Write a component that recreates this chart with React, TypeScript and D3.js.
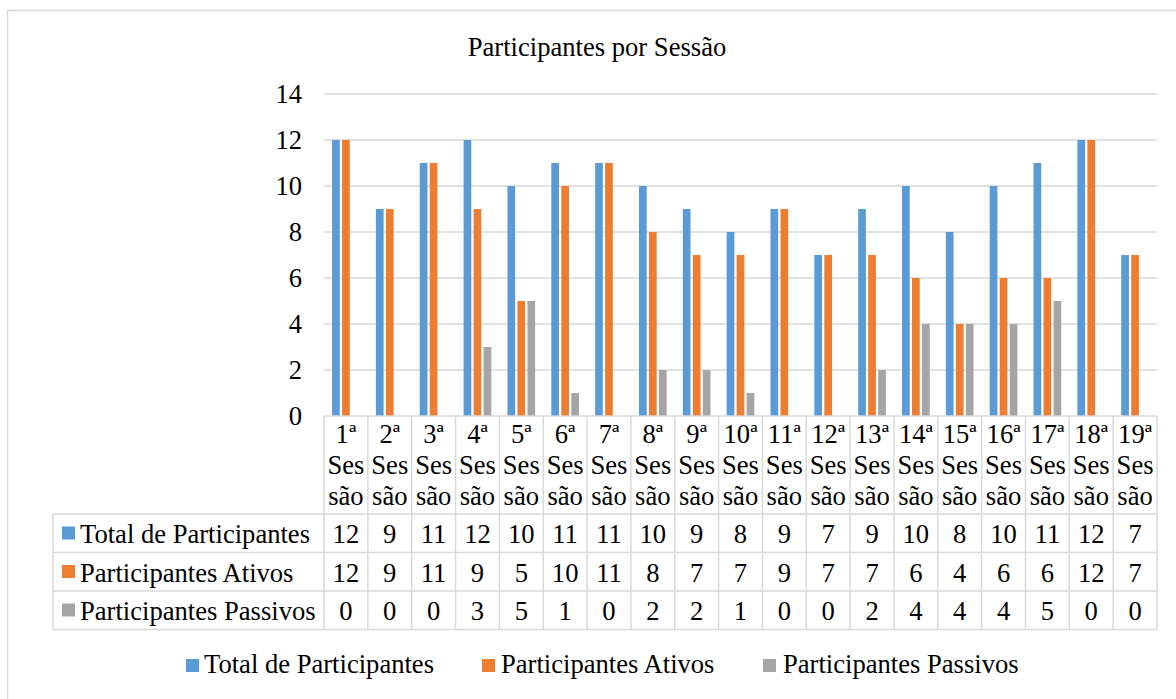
import React from "react";
import * as d3 from "d3";

const categories = ["1ª", "2ª", "3ª", "4ª", "5ª", "6ª", "7ª", "8ª", "9ª", "10ª", "11ª", "12ª", "13ª", "14ª", "15ª", "16ª", "17ª", "18ª", "19ª"];
const seriesNames = ["Total de Participantes", "Participantes Ativos", "Participantes Passivos"];
const totalValues = [12, 9, 11, 12, 10, 11, 11, 10, 9, 8, 9, 7, 9, 10, 8, 10, 11, 12, 7];
const ativosValues = [12, 9, 11, 9, 5, 10, 11, 8, 7, 7, 9, 7, 7, 6, 4, 6, 6, 12, 7];
const passivosValues = [0, 0, 0, 3, 5, 1, 0, 2, 2, 1, 0, 0, 2, 4, 4, 4, 5, 0, 0];
const yTicks = [0, 2, 4, 6, 8, 10, 12, 14];
const title = "Participantes por Sessão";

const colors = ["#5B9BD5", "#ED7D31", "#A5A5A5"];
const seriesValues = [totalValues, ativosValues, passivosValues];

const W = 1176;
const H = 699;
const FONT = '"Liberation Serif", "Times New Roman", Times, "DejaVu Serif", serif';
const FS = 26.6;
const GRID = "#D9D9D9";
const txt: React.CSSProperties = { fontFamily: FONT, fontSize: FS };

export default function App() {
  const plotLeft = 324;
  const plotRight = 1157;
  const plotTop = 94;
  const plotBottom = 416;

  const x0 = d3.scaleBand<string>().domain(categories).range([plotLeft, plotRight]).paddingInner(0).paddingOuter(0);
  const x1 = d3.scaleBand<string>().domain(seriesNames).range([0, x0.bandwidth()]).paddingInner(0.23).paddingOuter(0.807);
  const y = d3.scaleLinear().domain([0, 14]).range([plotBottom, plotTop]);

  const tableLeft = 53;
  const headerBottom = 514;
  const rowH = 38.5;
  const rowTops = [headerBottom, headerBottom + rowH, headerBottom + 2 * rowH];
  const tableBottom = headerBottom + 3 * rowH;

  const legendItems = [
    { key: 186, text: 204 },
    { key: 482, text: 501 },
    { key: 763, text: 783 },
  ];

  return (
    <svg width={W} height={H} style={{ position: "absolute", left: 0, top: 0, background: "#fff", fontFamily: FONT }}>
      <rect x={0} y={0} width={W} height={H} fill="#fff" />
      <rect x={7.5} y={10.5} width={W + 10} height={H + 10} fill="none" stroke={GRID} strokeWidth={1.5} />
      <text x={597} y={56} textAnchor="middle" style={txt} fill="#000">{title}</text>

      {yTicks.map((t) => (
        <g key={t}>
          {t > 0 && <line x1={plotLeft} x2={plotRight} y1={y(t)} y2={y(t)} stroke={GRID} strokeWidth={1.5} />}
          <text x={302} y={y(t)} dy="0.35em" textAnchor="end" style={txt} fill="#000">{t}</text>
        </g>
      ))}

      {categories.map((c, i) => (
        <g key={c}>
          {seriesNames.map((s, j) => {
            const v = seriesValues[j][i];
            if (v === 0) return null;
            return (
              <rect
                key={s}
                x={(x0(c) as number) + (x1(s) as number)}
                y={y(v)}
                width={x1.bandwidth()}
                height={y(0) - y(v)}
                fill={colors[j]}
              />
            );
          })}
        </g>
      ))}

      {/* table grid */}
      <line x1={plotLeft} x2={plotRight} y1={plotBottom} y2={plotBottom} stroke={GRID} strokeWidth={1.5} />
      {[...rowTops, tableBottom].map((ry, k) => (
        <line key={k} x1={tableLeft} x2={plotRight} y1={ry} y2={ry} stroke={GRID} strokeWidth={1.5} />
      ))}
      <line x1={tableLeft} x2={tableLeft} y1={headerBottom} y2={tableBottom} stroke={GRID} strokeWidth={1.5} />
      {categories.map((c) => (
        <line key={c} x1={x0(c) as number} x2={x0(c) as number} y1={plotBottom} y2={tableBottom} stroke={GRID} strokeWidth={1.5} />
      ))}
      <line x1={plotRight} x2={plotRight} y1={plotBottom} y2={tableBottom} stroke={GRID} strokeWidth={1.5} />

      {/* category headers */}
      {categories.map((c) => {
        const cx = (x0(c) as number) + x0.bandwidth() / 2;
        return (
          <text key={c} textAnchor="middle" style={txt} fill="#000">
            <tspan x={cx} y={443}>{c}</tspan>
            <tspan x={cx} y={474}>Ses</tspan>
            <tspan x={cx} y={505}>são</tspan>
          </text>
        );
      })}

      {/* table rows */}
      {seriesNames.map((s, j) => (
        <g key={s}>
          <rect x={62} y={rowTops[j] + 12.5} width={13} height={13} fill={colors[j]} />
          <text x={80} y={rowTops[j] + 29} style={txt} fill="#000">{s}</text>
          {categories.map((c, i) => (
            <text key={c} x={(x0(c) as number) + x0.bandwidth() / 2} y={rowTops[j] + 29} textAnchor="middle" style={txt} fill="#000">
              {seriesValues[j][i]}
            </text>
          ))}
        </g>
      ))}

      {/* legend */}
      {seriesNames.map((s, j) => (
        <g key={s}>
          <rect x={legendItems[j].key} y={659} width={13} height={13} fill={colors[j]} />
          <text x={legendItems[j].text} y={673} style={txt} fill="#000">{s}</text>
        </g>
      ))}
    </svg>
  );
}
